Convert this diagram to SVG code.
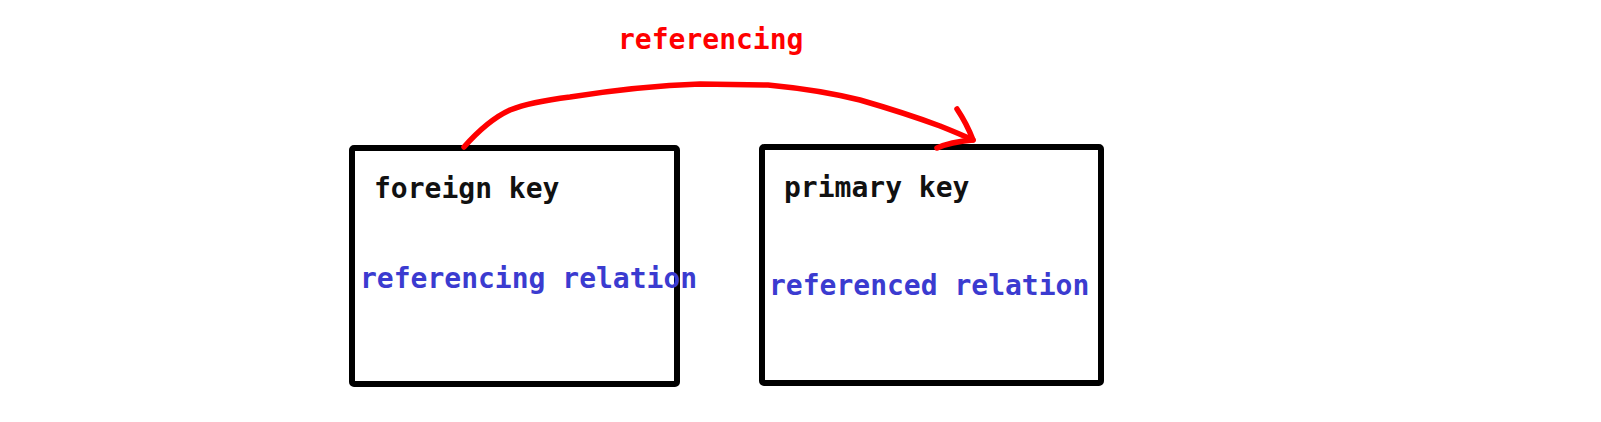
<svg xmlns="http://www.w3.org/2000/svg" width="1601" height="422" viewBox="0 0 1601 422">
<style>
.box{fill:#ffffff;stroke:#000000;stroke-width:6;stroke-linejoin:round}
.t{font-family:"DejaVu Sans Mono","Liberation Mono",monospace;font-weight:bold;font-size:28px}
.k{fill:#111111}
.r{fill:#3b3bd0}
.red{fill:#ff0000}
.arc{fill:none;stroke:#ff0000;stroke-width:5.5;stroke-linecap:round;stroke-linejoin:round}
</style>
<rect width="1601" height="422" fill="#ffffff"/>
<g id="referencing-relation">
<rect class="box" x="352" y="148" width="325" height="236" rx="2"/>
<text class="t k" x="374" y="198">foreign key</text>
<text class="t r" x="360" y="288">referencing relation</text>
</g>
<g id="referenced-relation">
<rect class="box" x="762" y="147" width="339" height="236" rx="2"/>
<text class="t k" x="784" y="197">primary key</text>
<text class="t r" x="769" y="295">referenced relation</text>
</g>
<g id="connectors">
<path class="arc" d="M464,147 Q488,120 510,110 Q530,102 570,97 Q640,86 700,84 L768,85 Q820,90 860,100 Q905,113 940,126 Q960,134 973,140"/>
<path class="arc" d="M957,109 Q967,124 973,140 Q950,142 937,148"/>
<text class="t red" x="618" y="49">referencing</text>
</g>
</svg>
